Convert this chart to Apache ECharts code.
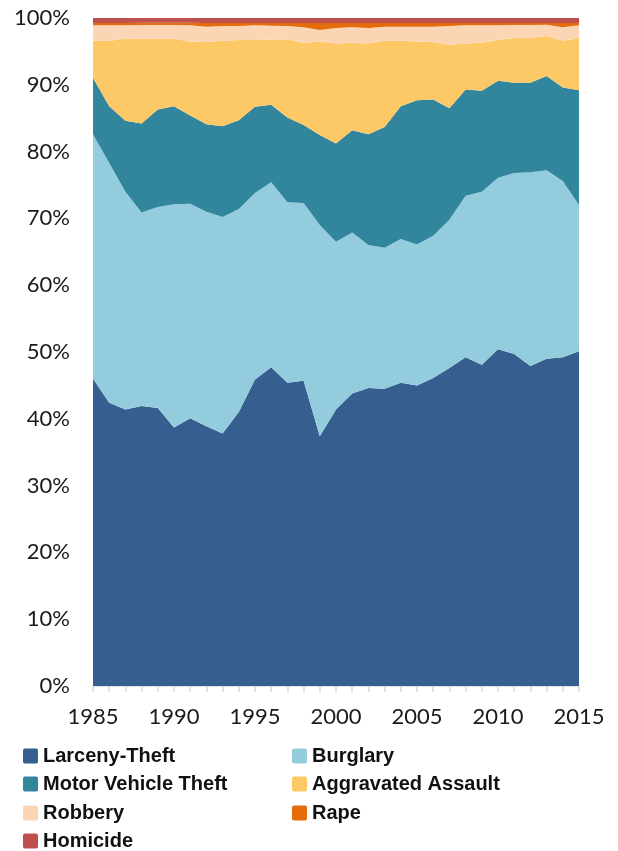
<!DOCTYPE html>
<html>
<head>
<meta charset="utf-8">
<script src="https://cdn.jsdelivr.net/npm/echarts@6/dist/echarts.min.js"></script>
<style>
html,body{margin:0;padding:0;background:#fff;}
#chart{width:618px;height:851px;}
</style>
</head>
<body>
<div id="chart"></div>
<script>
const years = ['1985','1986','1987','1988','1989','1990','1991','1992','1993','1994','1995','1996','1997','1998','1999','2000','2001','2002','2003','2004','2005','2006','2007','2008','2009','2010','2011','2012','2013','2014','2015'];
const yTicks = [0,10,20,30,40,50,60,70,80,90,100];

const larceny  = [46.0,42.4,41.4,41.9,41.6,38.7,40.1,38.9,37.8,41.0,45.9,47.7,45.4,45.7,37.4,41.4,43.8,44.6,44.5,45.4,45.0,46.1,47.6,49.2,48.1,50.4,49.7,47.9,49.0,49.2,50.1];
const burglary = [36.6,35.9,32.6,29.0,30.1,33.4,32.1,32.1,32.4,30.4,27.9,27.7,27.0,26.6,31.6,25.1,24.1,21.4,21.1,21.5,21.1,21.3,22.2,24.2,25.9,25.7,27.1,29.0,28.2,26.4,21.9];
const motorVeh = [8.4,8.5,10.6,13.3,14.6,14.7,13.2,13.1,13.6,13.3,12.9,11.6,12.7,11.7,13.5,14.7,15.3,16.6,18.1,19.9,21.6,20.4,16.7,15.9,15.1,14.5,13.5,13.4,14.1,14.0,17.2];
const aggAssault = [5.6,9.8,12.3,12.7,10.6,10.1,11.1,12.3,12.8,12.0,10.0,9.8,11.7,12.3,14.0,15.0,13.1,13.6,12.9,9.8,8.8,8.6,9.5,6.9,7.2,6.1,6.7,6.7,6.0,7.0,7.8];
const robbery  = [2.3,2.3,2.0,2.05,2.05,2.05,2.4,2.3,2.2,2.1,2.2,2.05,2.0,2.3,1.7,2.3,2.3,2.3,2.1,2.1,2.2,2.3,2.8,2.7,2.6,2.2,1.95,1.95,1.7,2.0,1.9];
const rape     = [0.35,0.35,0.35,0.35,0.35,0.35,0.4,0.55,0.45,0.45,0.35,0.4,0.45,0.65,1.05,0.75,0.65,0.75,0.55,0.55,0.55,0.55,0.45,0.35,0.35,0.35,0.3,0.3,0.25,0.65,0.35];
const homicide = [0.75,0.75,0.75,0.7,0.7,0.7,0.7,0.75,0.75,0.75,0.75,0.75,0.75,0.75,0.75,0.75,0.75,0.75,0.75,0.75,0.75,0.75,0.75,0.75,0.75,0.75,0.75,0.75,0.75,0.75,0.75];

const seriesNames = ['Larceny-Theft','Burglary','Motor Vehicle Theft','Aggravated Assault','Robbery','Rape','Homicide'];
const seriesData = [larceny, burglary, motorVeh, aggAssault, robbery, rape, homicide];
const colors = ['#365F8F','#93CDDD','#31859C','#FDC966','#FCD5B5','#E46C0A','#C0504D'];

// legend placement: [left, top] per series
const legendPos = [[23,746],[292,746],[23,774],[292,774],[23,803],[292,803],[23,831]];

const chart = echarts.init(document.getElementById('chart'));
const legendText = {fontFamily:'Liberation Sans', fontWeight:'bold', fontSize:20, color:'#111', lineHeight:20};
chart.setOption({
  animation:false,
  color: colors,
  grid:{left:93,right:39,top:18,bottom:165,containLabel:false},
  legend: seriesNames.map((n,i)=>({
    data:[n],left:legendPos[i][0],top:legendPos[i][1],padding:0,
    icon:'path://M2,0 L13,0 Q15,0 15,2 L15,13 Q15,15 13,15 L2,15 Q0,15 0,13 L0,2 Q0,0 2,0 Z',
    itemWidth:15,itemHeight:15,textStyle:legendText,selectedMode:false
  })),
  xAxis:{type:'category',data:years,boundaryGap:false,
    axisLine:{lineStyle:{color:'#D9D9D9',width:1.5}},
    axisTick:{show:true,interval:0,length:6,lineStyle:{color:'#D9D9D9',width:1.5}},
    axisLabel:{interval:4,margin:20,fontFamily:'Lato',fontSize:22,color:'#1a1a1a'}},
  yAxis:{type:'value',min:yTicks[0],max:yTicks[yTicks.length-1],interval:yTicks[1]-yTicks[0],
    axisLine:{show:false},axisTick:{show:false},splitLine:{show:false},
    axisLabel:{formatter:'{value}%',margin:23,fontFamily:'Lato',fontSize:22,color:'#1a1a1a'}},
  series: seriesNames.map((n,i)=>({
    name:n,type:'line',stack:'total',data:seriesData[i],symbol:'none',
    lineStyle:{width:0},areaStyle:{opacity:1,color:colors[i]},itemStyle:{color:colors[i]}
  }))
});
</script>
</body>
</html>
